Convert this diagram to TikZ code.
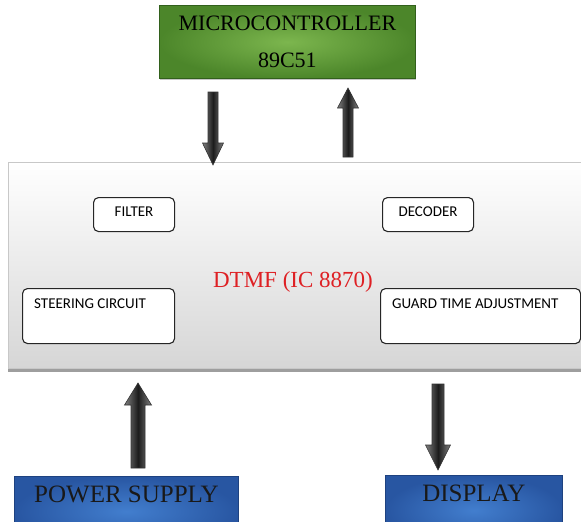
\documentclass[tikz,border=0pt]{standalone}
\usepackage{fontspec}
\setmainfont{Liberation Serif}
\newfontfamily\calibri{Carlito}
\usetikzlibrary{calc}
\usetikzlibrary{shadows}

\definecolor{grnlight}{RGB}{124,182,78}
\definecolor{grndark}{RGB}{76,134,42}
\definecolor{grnline}{RGB}{50,96,28}
\definecolor{bluelight}{RGB}{66,126,206}
\definecolor{bluedark}{RGB}{40,86,162}
\definecolor{blueline}{RGB}{30,66,128}
\definecolor{boardline}{RGB}{200,200,200}
\definecolor{boardlow}{RGB}{214,214,214}
\definecolor{arrowgray}{RGB}{128,128,128}
\definecolor{arrowcore}{RGB}{28,28,28}
\definecolor{dtmfred}{RGB}{222,32,36}

\tikzset{
  titlebox/.style={draw=grnline, line width=.8pt, inner color=grnlight, outer color=grndark,
    drop shadow={shadow xshift=1pt, shadow yshift=-2pt, opacity=.45}},
  bluebox/.style={draw=blueline, line width=.8pt, inner color=bluelight, outer color=bluedark,
    drop shadow={shadow xshift=1pt, shadow yshift=-2pt, opacity=.45}},
  bluelabel/.style={anchor=base, yshift=-26pt, inner sep=0pt, text=black!90,
    font=\fontsize{25}{30}\selectfont},
  board/.style={draw=boardline, line width=.8pt, top color=white, bottom color=boardlow},
  smallbox/.style={draw=black!85, line width=1.1pt, rounded corners=5pt, fill=white,
    inner sep=0pt, font=\calibri\fontsize{15}{18}\selectfont},
  boxlabel/.style={anchor=base west, xshift=12pt, yshift=-20pt, inner sep=0pt,
    font=\calibri\fontsize{15}{18}\selectfont},
  fatarrow/.style={draw=black!80, line width=.6pt, left color=arrowgray,
    right color=arrowgray, middle color=arrowcore}
}

% #1 shaft half width, #2 head half width, #3 head length, #4 from, #5 to
\newcommand{\fatarrow}[5]{%
  \path[fatarrow] ($(#4)!#1!90:(#5)$) -- ($(#5)!#3!(#4)!#1!90:(#5)$)
    -- ($(#5)!#3!(#4)!#2!90:(#5)$) -- (#5) -- ($(#5)!#3!(#4)!#2!-90:(#5)$)
    -- ($(#5)!#3!(#4)!#1!-90:(#5)$) -- ($(#4)!#1!-90:(#5)$) -- cycle;}

\begin{document}
\begin{tikzpicture}[x=1pt, y=-1pt]
\useasboundingbox (0,0) rectangle (581,522);
\clip (0,0) rectangle (581,522);

% microcontroller
\node[titlebox, anchor=north west, minimum width=256pt, minimum height=73pt, align=center,
  font=\fontsize{22}{37}\selectfont] (micro) at (159,5) {MICROCONTROLLER\\89C51};

% dtmf board
\node[board, anchor=north west, minimum width=600pt, minimum height=206pt] (dtmf) at (8,162) {};
\draw[black!38, line width=3pt] ([yshift=-1.5pt]dtmf.south west) -- ([yshift=-1.5pt]dtmf.south east);
\node[anchor=base, inner sep=0pt, text=dtmfred, font=\fontsize{23}{28}\selectfont] (dtmftext)
  at (293,287) {DTMF (IC 8870)};

\node[smallbox, anchor=north west, minimum width=81pt, minimum height=34pt, text depth=6pt]
  (filter) at (93,197) {FILTER};
\node[smallbox, anchor=north west, minimum width=91pt, minimum height=34pt, text depth=6pt]
  (decoder) at (382,197) {DECODER};
\node[smallbox, anchor=north west, minimum width=152pt, minimum height=55pt,
  label={[boxlabel]north west:STEERING CIRCUIT}] (steer) at (22,288) {};
\node[smallbox, anchor=north west, minimum width=200pt, minimum height=55pt,
  label={[boxlabel]north west:GUARD TIME ADJUSTMENT}] (guard) at (380,288) {};

% supply and display
\node[bluebox, anchor=north west, minimum width=224pt, minimum height=70pt,
  label={[bluelabel]north:POWER SUPPLY}] (power) at (14,476) {};
\node[bluebox, anchor=north west, minimum width=177pt, minimum height=70pt,
  label={[bluelabel]north:DISPLAY}] (display) at (385,475) {};

% arrows
\coordinate (a1s) at (213,92);
\coordinate (a1e) at (213,165);
\coordinate (a2s) at (348,157);
\coordinate (a2e) at (348,88);
\coordinate (a3s) at (138,468);
\coordinate (a3e) at (138,383);
\coordinate (a4s) at (438,384);
\coordinate (a4e) at (438,470);

\fatarrow{5pt}{10.5pt}{22pt}{a1s}{a1e}
\fatarrow{5pt}{10.5pt}{20pt}{a2s}{a2e}
\fatarrow{7pt}{13.5pt}{22pt}{a3s}{a3e}
\fatarrow{6pt}{12.5pt}{25pt}{a4s}{a4e}

\end{tikzpicture}
\end{document}
